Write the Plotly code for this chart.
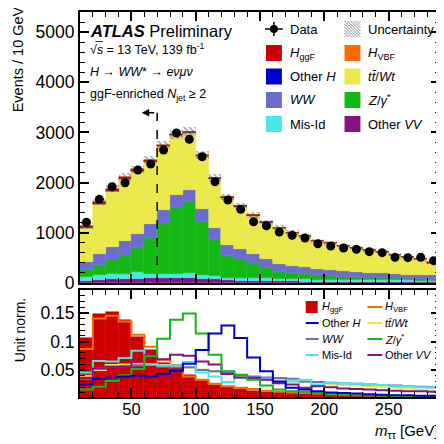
import plotly.graph_objects as go

# ---------------- data ----------------
mtt_centers = [15, 25, 35, 45, 55, 65, 75, 85, 95, 105, 115, 125, 135, 145,
               155, 165, 175, 185, 195, 205, 215, 225, 235, 245, 255, 265, 275, 285]
BIN_WIDTH = 10
X_RANGE = [10, 290]
CUT_MTT = 70
CUT_ARROW_TIP = 58
CUT_HEIGHT = 3390

data_events = [1209, 1667, 1918, 1998, 2251, 2370, 2650, 2990, 2862, 2516, 2018, 1653, 1468, 1221,
               1141, 1016, 950, 896, 783, 737, 697, 671, 624, 604, 512, 505, 512, 445]
data_err = [35, 41, 44, 45, 47, 49, 51, 55, 53, 50, 45, 41, 38, 35,
            34, 32, 31, 30, 28, 27, 26, 26, 25, 25, 23, 22, 23, 21]

other_vv = [47, 69, 73, 73, 85, 99, 90, 100, 98, 85, 78, 56, 48, 47,
            43, 35, 33, 25, 29, 26, 23, 22, 21, 20, 18, 17, 17, 16]
mis_id = [69, 99, 98, 107, 126, 90, 87, 87, 96, 69, 59, 44, 54, 54,
          53, 44, 45, 50, 36, 42, 41, 39, 38, 36, 33, 33, 30, 29]
z_gamma = [140, 185, 295, 380, 485, 705, 1010, 1310, 1415, 1070, 725, 445, 370, 290,
           200, 150, 118, 105, 90, 75, 60, 55, 50, 45, 40, 38, 35, 32]
ww = [160, 225, 251, 286, 285, 286, 266, 265, 246, 246, 232, 219, 199, 190,
      186, 152, 147, 140, 130, 120, 121, 110, 97, 91, 88, 78, 77, 75]
ttbar_wt = [690, 995, 1110, 1225, 1245, 1240, 1270, 1180, 1140, 1055, 980, 925, 840, 760,
            720, 710, 655, 610, 555, 525, 495, 475, 445, 430, 380, 345, 310, 255]
other_h = [4.5, 6, 7, 7, 7, 7, 8, 9, 11, 15, 21, 23, 19, 13,
           9, 5, 3, 3, 2, 2, 2, 2, 1.5, 1, 1, 1, 1, 1]
h_vbf = [2.2, 3.5, 3.6, 3.4, 2.8, 2.3, 1.7, 1.5, 1.0, 0.8, 0.7, 0.6, 0.5, 0.4,
         0.35, 0.3, 0.3, 0.25, 0.2, 0.2, 0.2, 0.2, 0.15, 0.15, 0.1, 0.1, 0.1, 0.1]
h_ggf = [28, 38, 40, 36, 28, 22, 16, 15, 11, 8, 6, 5, 4, 4,
         3, 3, 3, 2, 2, 2, 2, 2, 2, 1, 1, 1, 1, 1]
mc_unc = [55, 65, 70, 75, 75, 80, 85, 90, 90, 80, 70, 65, 60, 55,
          50, 48, 45, 42, 40, 38, 36, 35, 33, 32, 30, 28, 27, 25]

# unit-normalised shapes (lower panel)
norm_h_ggf = [0.106, 0.148, 0.152, 0.137, 0.108, 0.085, 0.062, 0.056, 0.041, 0.032, 0.024, 0.020, 0.017, 0.014,
              0.012, 0.011, 0.010, 0.009, 0.008, 0.007, 0.007, 0.006, 0.006, 0.005, 0.005, 0.005, 0.004, 0.004]
norm_h_vbf = [0.087, 0.140, 0.145, 0.135, 0.112, 0.091, 0.068, 0.059, 0.039, 0.033, 0.026, 0.022, 0.019, 0.017,
              0.014, 0.012, 0.011, 0.010, 0.009, 0.008, 0.007, 0.007, 0.006, 0.006, 0.005, 0.005, 0.004, 0.004]
norm_other_h = [0.025, 0.035, 0.037, 0.039, 0.040, 0.039, 0.043, 0.049, 0.061, 0.085, 0.114, 0.128, 0.106, 0.072,
                0.048, 0.030, 0.019, 0.016, 0.013, 0.011, 0.010, 0.009, 0.008, 0.007, 0.006, 0.006, 0.005, 0.005]
norm_ww = [0.035, 0.053, 0.056, 0.056, 0.058, 0.059, 0.056, 0.055, 0.055, 0.050, 0.048, 0.046, 0.041, 0.039,
           0.037, 0.036, 0.035, 0.030, 0.029, 0.028, 0.027, 0.026, 0.025, 0.024, 0.023, 0.022, 0.021, 0.020]
norm_ttbar = [0.040, 0.050, 0.059, 0.060, 0.061, 0.060, 0.059, 0.057, 0.054, 0.051, 0.047, 0.044, 0.040, 0.036,
              0.034, 0.033, 0.031, 0.029, 0.027, 0.025, 0.024, 0.023, 0.022, 0.021, 0.019, 0.018, 0.016, 0.014]
norm_z = [0.016, 0.021, 0.031, 0.041, 0.052, 0.074, 0.105, 0.138, 0.149, 0.114, 0.077, 0.048, 0.042, 0.033,
          0.023, 0.016, 0.013, 0.012, 0.010, 0.008, 0.007, 0.006, 0.006, 0.005, 0.005, 0.004, 0.004, 0.004]
norm_mis_id = [0.046, 0.066, 0.065, 0.071, 0.084, 0.060, 0.058, 0.058, 0.064, 0.046, 0.039, 0.029, 0.036, 0.036,
               0.035, 0.029, 0.030, 0.033, 0.024, 0.028, 0.027, 0.026, 0.025, 0.024, 0.022, 0.022, 0.020, 0.019]
norm_other_vv = [0.036, 0.053, 0.056, 0.056, 0.065, 0.076, 0.069, 0.077, 0.075, 0.065, 0.060, 0.043, 0.037, 0.036,
                 0.033, 0.027, 0.025, 0.019, 0.022, 0.020, 0.018, 0.017, 0.016, 0.015, 0.014, 0.013, 0.013, 0.012]

main_y_ticks = [0, 1000, 2000, 3000, 4000, 5000]
norm_y_ticks = [0.05, 0.1, 0.15]
norm_y_ticklabels = ["0.05", "0.1", "0.15"]
x_ticks = [50, 100, 150, 200, 250]
x_ticklabels = ["50", "100", "150", "200", "250"]

# ---------------- styles ----------------
C_GGF = "#cc0000"
C_VBF = "#ff6a00"
C_OTH = "#0000cc"
C_TT = "#ebe84c"
C_WW = "#6b6bd0"
C_Z = "#14b814"
C_MIS = "#48e8e8"
C_VV = "#881188"
FONT = "Liberation Sans, Arial, Helvetica, sans-serif"

# the page body has an 8 px margin, so the figure is made 8 px smaller
OFF = 8
W = H = 436
ML, MR, MT, MB = 72, 2, 4, 47
PW = W - ML - MR
PH = H - MT - MB


def px(x):
    """reference-page x pixel -> paper coordinate"""
    return (x - OFF - ML) / PW


def py(y):
    """reference-page y pixel -> paper coordinate"""
    return (H - MB - (y - OFF)) / PH


fig = go.Figure()

# ---------------- upper panel: stacked histogram ----------------
stack = [
    ("Other VV", other_vv, C_VV),
    ("Mis-Id", mis_id, C_MIS),
    ("Z/gamma*", z_gamma, C_Z),
    ("WW", ww, C_WW),
    ("ttbar/Wt", ttbar_wt, C_TT),
    ("Other H", other_h, C_OTH),
    ("H_VBF", h_vbf, C_VBF),
    ("H_ggF", h_ggf, C_GGF),
]
base = [0.0] * len(mtt_centers)
for name, vals, col in stack:
    fig.add_trace(go.Bar(
        x=mtt_centers, y=vals, base=list(base), width=BIN_WIDTH,
        marker=dict(color=col, line=dict(width=0.5, color=col)),
        xaxis="x", yaxis="y", showlegend=False, name=name))
    base = [b + v for b, v in zip(base, vals)]

mc_total = base
fig.add_trace(go.Bar(
    x=mtt_centers, y=[2 * u for u in mc_unc], base=[t - u for t, u in zip(mc_total, mc_unc)],
    width=BIN_WIDTH,
    marker=dict(color="rgba(0,0,0,0)", line=dict(width=0),
                pattern=dict(shape="\\", fgcolor="#555555", bgcolor="rgba(0,0,0,0)",
                             size=4, solidity=0.45)),
    xaxis="x", yaxis="y", showlegend=False, name="Uncertainty"))

fig.add_trace(go.Scatter(
    x=mtt_centers, y=data_events, mode="markers",
    marker=dict(color="black", size=9),
    error_y=dict(type="data", array=data_err, color="black", thickness=1.5, width=0),
    xaxis="x", yaxis="y", showlegend=False, name="Data"))

# ---------------- lower panel: unit-normalised shapes ----------------
fig.add_trace(go.Bar(
    x=mtt_centers, y=norm_h_ggf, width=BIN_WIDTH,
    marker=dict(color=C_GGF, line=dict(width=0.5, color=C_GGF)),
    xaxis="x2", yaxis="y2", showlegend=False, name="H_ggF"))

edges_x = [c - BIN_WIDTH / 2 for c in mtt_centers] + [mtt_centers[-1] + BIN_WIDTH / 2]
lines = [
    (norm_h_vbf, C_VBF),
    (norm_ttbar, C_TT),
    (norm_ww, C_WW),
    (norm_mis_id, C_MIS),
    (norm_other_vv, C_VV),
    (norm_z, C_Z),
    (norm_other_h, C_OTH),
]
for vals, col in lines:
    fig.add_trace(go.Scatter(
        x=edges_x, y=list(vals) + [vals[-1]], mode="lines",
        line=dict(color=col, width=2, shape="hv"),
        xaxis="x2", yaxis="y2", showlegend=False))

# ---------------- axes ----------------
axis_common = dict(showline=True, linecolor="black", linewidth=2, mirror="allticks",
                   ticks="inside", tickcolor="black", tickwidth=1.5, showgrid=False,
                   zeroline=False)
yfont = dict(family=FONT, size=17.5, color="black")
xfont = dict(family=FONT, size=16.5, color="black")

fig.update_layout(
    width=W, height=H,
    margin=dict(l=ML, r=MR, t=MT, b=MB),
    paper_bgcolor="white", plot_bgcolor="white",
    barmode="overlay", bargap=0,
    font=dict(family=FONT, color="black"),
    showlegend=False,
    xaxis=dict(domain=[0, 1], range=X_RANGE, anchor="y", tickvals=x_ticks,
               showticklabels=False, ticklen=9, tickfont=xfont,
               minor=dict(ticks="inside", dtick=10, tick0=0, ticklen=5, tickcolor="black", tickwidth=1),
               **axis_common),
    yaxis=dict(domain=[(H - MB - (283 - OFF)) / PH, 1], range=[0, 5400], anchor="x",
               tickvals=main_y_ticks, ticklen=9, tickfont=yfont,
               minor=dict(ticks="inside", dtick=200, tick0=0, ticklen=5, tickcolor="black", tickwidth=1),
               **axis_common),
    xaxis2=dict(domain=[0, 1], range=X_RANGE, anchor="y2", tickvals=x_ticks, ticktext=x_ticklabels,
                ticklen=9, tickfont=xfont, ticklabelstandoff=-4,
                minor=dict(ticks="inside", dtick=10, tick0=0, ticklen=5, tickcolor="black", tickwidth=1),
                **axis_common),
    yaxis2=dict(domain=[0, (H - MB - (290 - OFF)) / PH], range=[0.003, 0.19], anchor="x2",
                tickvals=norm_y_ticks, ticktext=norm_y_ticklabels, ticklen=9, tickfont=yfont,
                minor=dict(ticks="inside", dtick=0.01, tick0=0, ticklen=5, tickcolor="black", tickwidth=1),
                **axis_common),
)

shapes = []
annotations = []

# selection cut line and arrow
shapes.append(dict(type="line", xref="x", yref="y", x0=CUT_MTT, x1=CUT_MTT, y0=0, y1=CUT_HEIGHT,
                   line=dict(color="black", width=1.5, dash="dash"), layer="above"))
annotations.append(dict(xref="x", yref="y", x=CUT_ARROW_TIP, y=CUT_HEIGHT, ax=CUT_MTT, ay=CUT_HEIGHT,
                        axref="x", ayref="y", text=" ", showarrow=True, arrowhead=2,
                        arrowsize=1, arrowwidth=1.5, arrowcolor="black"))


def text(x, y, s, size, xanchor="left", angle=0):
    annotations.append(dict(xref="paper", yref="paper", x=px(x), y=py(y), text=s,
                            showarrow=False, xanchor=xanchor, yanchor="middle", textangle=angle,
                            font=dict(family=FONT, size=size, color="black")))


def rect(x0, y0, x1, y1, col):
    shapes.append(dict(type="rect", xref="paper", yref="paper", x0=px(x0), x1=px(x1),
                       y0=py(y1), y1=py(y0), fillcolor=col, line=dict(width=0), layer="above"))


def seg(x0, y0, x1, y1, col, w):
    shapes.append(dict(type="line", xref="paper", yref="paper", x0=px(x0), x1=px(x1),
                       y0=py(y0), y1=py(y1), line=dict(color=col, width=w), layer="above"))


# ATLAS labels
text(88, 31, "<b><i>ATLAS</i></b> Preliminary", 16.5)
text(88, 49, "√<i>s</i> = 13 TeV, 139 fb<sup>-1</sup>", 12.5)
text(88, 72, "<i>H</i> → <i>WW</i>* → <i>eνμν</i>", 12.5)
text(88, 95, "ggF-enriched <i>N</i><sub>jet</sub> ≥ 2", 12.5)
seg(95.5, 41.5, 103, 41.5, "black", 0.8)

# axis titles
text(18, 59, "Events / 10 GeV", 14.5, xanchor="center", angle=-90)
text(20, 330, "Unit norm.", 14, xanchor="center", angle=-90)
annotations.append(dict(xref="paper", yref="paper", x=px(442), y=py(432),
                        text="<i>m</i><sub>ττ</sub> [GeV]", showarrow=False,
                        xanchor="right", yanchor="middle",
                        font=dict(family=FONT, size=15, color="black")))

# upper legend
rows = [29, 53, 76.5, 100, 124]
c1x, c2x = 267, 346
sw = 16
# Data
shapes.append(dict(type="circle", xref="paper", yref="paper", x0=px(271), x1=px(279),
                   y0=py(33), y1=py(25), fillcolor="black", line=dict(width=0), layer="above"))
seg(266, rows[0], 284, rows[0], "black", 1.5)
seg(275, rows[0] - 7, 275, rows[0] + 7, "black", 1.5)
text(289, rows[0], "Data", 13)
# Uncertainty hatch
hx0, hx1, hy0, hy1 = c2x, c2x + sw, rows[0] - 8, rows[0] + 8
for c in range(-int(sw) - 2, int(sw) + 3, 3):
    xs = max(hx0, hx0 + c)
    xe = min(hx1, hx1 + c)
    if xe > xs:
        seg(xs, hy0 + (xs - hx0 - c), xe, hy0 + (xe - hx0 - c), "#666666", 0.8)
text(368, rows[0], "Uncertainty", 13)

left_items = [(C_GGF, "<i>H</i><sub>ggF</sub>"), (C_OTH, "Other <i>H</i>"),
              (C_WW, "<i>WW</i>"), (C_MIS, "Mis-Id")]
right_items = [(C_VBF, "<i>H</i><sub>VBF</sub>"), (C_TT, "<i>t</i><i>t̄</i>/<i>Wt</i>"),
               (C_Z, "<i>Z</i>/<i>γ</i><sup>*</sup>"), (C_VV, "Other <i>VV</i>")]
for i, (col, lab) in enumerate(left_items):
    r = rows[i + 1]
    rect(c1x, r - 8, c1x + sw, r + 8, col)
    text(289, r, lab, 13)
for i, (col, lab) in enumerate(right_items):
    r = rows[i + 1]
    rect(c2x, r - 8, c2x + sw, r + 8, col)
    text(368, r, lab, 13)

# lower legend
lrows = [307, 323, 339, 355]
rect(307, lrows[0] - 6, 319, lrows[0] + 6, C_GGF)
text(321, lrows[0], "<i>H</i><sub>ggF</sub>", 11)
low_left = [(C_OTH, "Other <i>H</i>"), (C_WW, "<i>WW</i>"), (C_MIS, "Mis-Id")]
for i, (col, lab) in enumerate(low_left):
    r = lrows[i + 1]
    seg(307, r, 320, r, col, 2)
    text(321, r, lab, 11)
low_right = [(C_VBF, "<i>H</i><sub>VBF</sub>"), (C_TT, "<i>t</i><i>t̄</i>/<i>Wt</i>"),
             (C_Z, "<i>Z</i>/<i>γ</i><sup>*</sup>"), (C_VV, "Other <i>VV</i>")]
for i, (col, lab) in enumerate(low_right):
    r = lrows[i]
    seg(369, r, 384, r, col, 2)
    text(385, r, lab, 11)

fig.update_layout(shapes=shapes, annotations=annotations)
fig.write_html("out.html")
